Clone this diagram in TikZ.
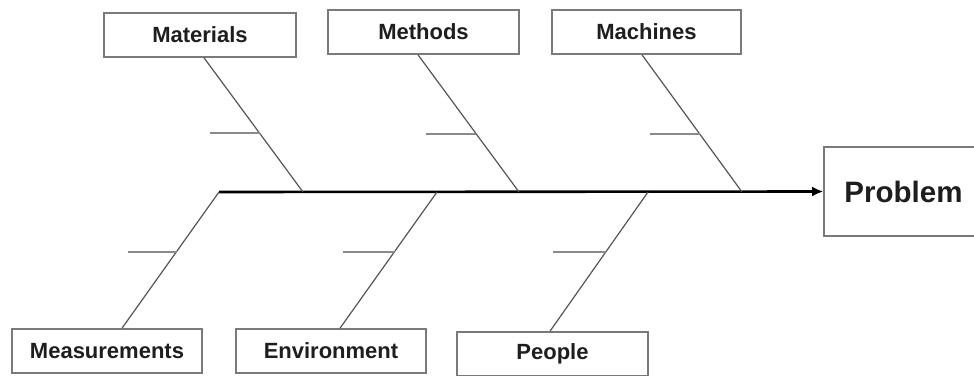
\documentclass[tikz,border=0pt]{standalone}
\usepackage{fontspec}
\setmainfont{Liberation Sans}
\usetikzlibrary{arrows.meta}
\definecolor{boxgray}{HTML}{7A7A7A}
\definecolor{bonegray}{HTML}{555555}
\definecolor{tickgray}{HTML}{8A8A8A}
\definecolor{txt}{HTML}{1E1E1E}
\begin{document}
\begin{tikzpicture}[x=1pt,y=-1pt,
  cause/.style={draw=boxgray,line width=1.6pt,fill=white,minimum width=191pt,minimum height=44pt,
    inner sep=0pt,font=\fontsize{22}{24}\selectfont\bfseries,text=txt},
  effect/.style={draw=boxgray,line width=1.6pt,fill=white,minimum width=200pt,minimum height=89pt,
    inner sep=0pt},
  bone/.style={draw=bonegray,line width=1.2pt},
  rib/.style={draw=tickgray,line width=1.5pt},
  spine/.style={draw=black,line width=2.6pt,-{Latex[length=11pt,width=10pt]}}]
\useasboundingbox (0,0) rectangle (974,375);
\clip (0,0) rectangle (974,375);
% cause boxes
\node[cause,minimum width=192pt] (mat) at (200,35) {Materials};
\node[cause] (met) at (423.5,32) {Methods};
\node[cause,minimum width=189pt] (mac) at (646.5,32) {Machines};
\node[cause,minimum width=190pt] (mea) at (107,351) {Measurements};
\node[cause,minimum width=190pt] (env) at (331,351) {Environment};
\node[cause] (peo) at (552.5,354) {People};
% effect box (its right side runs off the picture)
\node[effect] (prob) at (924,191.5) {};
\node[font=\fontsize{29.5}{32}\selectfont\bfseries,text=txt,inner sep=0pt] (probtxt) at (903.5,192) {Problem};
% spine joints
\coordinate (s0) at (219,192);
\coordinate (jmat) at (303,192);
\coordinate (jmet) at (519,192);
\coordinate (jmac) at (742,192);
\coordinate (jenv) at (437,192);
\coordinate (jpeo) at (648,192);
% spine
\draw[spine] (s0) -- (prob.west);
% bones
\draw[bone] ([xshift=4pt]mat.south) -- (jmat);
\draw[bone] ([xshift=-5.5pt]met.south) -- (jmet);
\draw[bone] ([xshift=-4.5pt]mac.south) -- (jmac);
\draw[bone] (s0) -- ([xshift=15pt]mea.north);
\draw[bone] (jenv) -- ([xshift=9pt]env.north);
\draw[bone] (jpeo) -- ([xshift=-2.5pt]peo.north);
% ribs
\coordinate (rmat) at (259.7,133);
\coordinate (rmet) at (476,134);
\coordinate (rmac) at (699.5,134);
\coordinate (rmea) at (176.5,252);
\coordinate (renv) at (394.5,252);
\coordinate (rpeo) at (606,252);
\draw[rib] (rmat) -- ++(-50,0);
\draw[rib] (rmet) -- ++(-50,0);
\draw[rib] (rmac) -- ++(-50,0);
\draw[rib] (rmea) -- ++(-49,0);
\draw[rib] (renv) -- ++(-52,0);
\draw[rib] (rpeo) -- ++(-53,0);
\end{tikzpicture}
\end{document}
